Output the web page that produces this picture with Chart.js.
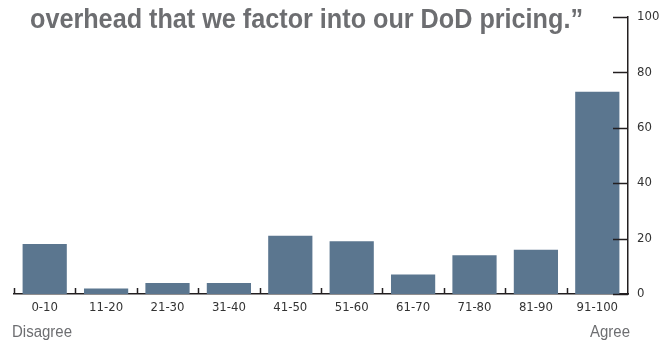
<!DOCTYPE html>
<html>
<head>
<meta charset="utf-8">
<script src="https://cdn.jsdelivr.net/npm/chart.js@4"></script>
<style>
  html, body { margin: 0; padding: 0; background: #fff; }
  #wrap { position: relative; width: 669px; height: 341px; }
</style>
</head>
<body>
<div id="wrap"><canvas id="chart" width="669" height="341"></canvas></div>
<script>
// Survey share by score bucket
const categories = ['0-10', '11-20', '21-30', '31-40', '41-50', '51-60', '61-70', '71-80', '81-90', '91-100'];
const values = [18, 2, 4, 4, 21, 19, 7, 14, 16, 73];
const yTicks = [0, 20, 40, 60, 80, 100];
const titleText = 'overhead that we factor into our DoD pricing.\u201D';
const leftLabel = 'Disagree';
const rightLabel = 'Agree';

const FONT = '"DejaVu Sans Condensed", "Liberation Sans", sans-serif';
const TITLE_FONT = '"Liberation Sans", Arial, sans-serif';
const AXIS = '#231f20';

// fill text squeezed horizontally to a target width (condensed look)
function squeezeText(ctx, text, x, y, width, align) {
    const w = ctx.measureText(text).width;
    const k = width / w;
    ctx.save();
    const left = align === 'right' ? x - width : x;
    ctx.translate(left, y);
    ctx.scale(k, 1);
    ctx.textAlign = 'left';
    ctx.fillText(text, 0, 0);
    ctx.restore();
}

// draws title, end labels and inward tick marks
const decor = {
    id: 'decor',
    afterDraw(chart) {
        const ctx = chart.ctx;
        const x = chart.scales.x;
        const y = chart.scales.y;
        const area = chart.chartArea;
        ctx.save();
        ctx.strokeStyle = AXIS;
        ctx.lineWidth = 1.5;
        // y ticks point into the plot
        yTicks.forEach(v => {
            const py = Math.round(y.getPixelForValue(v)) + 0.5;
            ctx.beginPath();
            ctx.moveTo(area.right - 15, py);
            ctx.lineTo(area.right, py);
            ctx.stroke();
        });
        // x ticks at category boundaries, pointing up
        const half = (x.getPixelForValue(1) - x.getPixelForValue(0)) / 2;
        for (let i = 0; i < categories.length; i++) {
            const px = Math.round(x.getPixelForValue(i) - half) + 0.5;
            ctx.beginPath();
            ctx.moveTo(px, area.bottom - 6);
            ctx.lineTo(px, area.bottom);
            ctx.stroke();
        }
        // title
        ctx.fillStyle = '#6d6e71';
        ctx.font = 'bold 28px ' + TITLE_FONT;
        ctx.textBaseline = 'alphabetic';
        squeezeText(ctx, titleText, 30, 28, 553, 'left');
        // end labels
        ctx.font = '16px ' + TITLE_FONT;
        squeezeText(ctx, leftLabel, 12, 337, 60, 'left');
        squeezeText(ctx, rightLabel, 630, 337, 40, 'right');
        ctx.restore();
    }
};

new Chart(document.getElementById('chart'), {
    type: 'bar',
    data: {
        labels: categories,
        datasets: [{
            data: values,
            backgroundColor: '#5b768f',
            borderWidth: 0,
            barPercentage: 0.72,
            categoryPercentage: 1.0
        }]
    },
    options: {
        responsive: false,
        animation: false,
        layout: { padding: { left: 14, top: 16, right: 0, bottom: 0 } },
        plugins: {
            legend: { display: false },
            tooltip: { enabled: false },
            title: { display: false }
        },
        scales: {
            x: {
                grid: { display: false, drawTicks: false },
                border: { display: true, color: AXIS, width: 1.5 },
                ticks: {
                    color: '#333',
                    padding: 6,
                    maxRotation: 0,
                    font: { family: FONT, size: 13 }
                },
                afterFit(scale) { scale.height = 47; }
            },
            y: {
                position: 'right',
                min: 0,
                max: 100,
                afterBuildTicks(scale) { scale.ticks = yTicks.map(v => ({ value: v })); },
                grid: { display: false, drawTicks: false },
                border: { display: true, color: AXIS, width: 1.5 },
                ticks: {
                    color: '#333',
                    padding: 9,
                    font: { family: FONT, size: 13 }
                },
                afterFit(scale) { scale.width = 41; }
            }
        }
    },
    plugins: [decor]
});
</script>
</body>
</html>
